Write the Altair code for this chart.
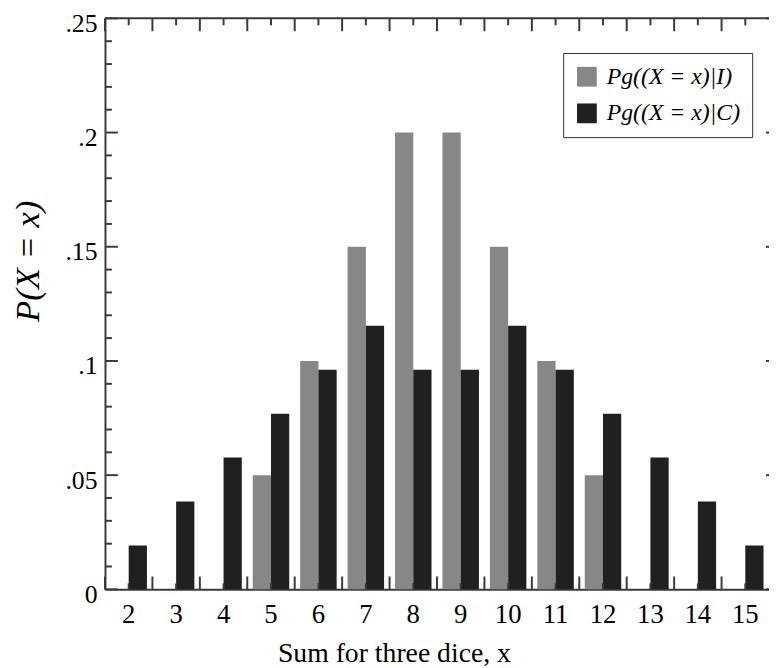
import altair as alt
import pandas as pd

# ---- data ----
sums = [2, 3, 4, 5, 6, 7, 8, 9, 10, 11, 12, 13, 14, 15]
p_indep = [0, 0, 0, 0.05, 0.10, 0.15, 0.20, 0.20, 0.15, 0.10, 0.05, 0, 0, 0]
p_cond = [0.0192, 0.0385, 0.0577, 0.0769, 0.0962, 0.1154, 0.0962,
          0.0962, 0.1154, 0.0962, 0.0769, 0.0577, 0.0385, 0.0192]
series_labels = ["Pg((X = x)|I)", "Pg((X = x)|C)"]
series_colors = ["#878787", "#202020"]
y_major = [0, 0.05, 0.10, 0.15, 0.20, 0.25]
y_minor = [0.01, 0.02, 0.03, 0.04, 0.06, 0.07, 0.08, 0.09, 0.11, 0.12, 0.13, 0.14,
           0.16, 0.17, 0.18, 0.19, 0.21, 0.22, 0.23, 0.24]

W, H = 671, 577
FONT = "Liberation Serif"
AXC = "#3a3a3a"

rows = []
for s, a, b in zip(sums, p_indep, p_cond):
    rows.append({"sum": s, "series": series_labels[0], "p": a})
    rows.append({"sum": s, "series": series_labels[1], "p": b})
df = pd.DataFrame(rows)

x_scale = alt.Scale(paddingInner=0, paddingOuter=0)
y_scale = alt.Scale(domain=[0, 0.25], nice=False, zero=True)

x_axis = alt.Axis(title="Sum for three dice, x", labelAngle=0, ticks=False,
                  labelPadding=12, labelFontSize=27, titleFontSize=28,
                  titleX=292, titleY=73, titleBaseline="alphabetic",
                  titleAlign="center")
y_axis = alt.Axis(title="P(X = x)", values=y_major, ticks=False,
                  labelExpr="datum.value == 0 ? '0' : substring(format(datum.value, '.2~f'), 1)",
                  labelPadding=8, labelFontSize=26, labelOffset=5,
                  titleFontSize=35, titleFontStyle="italic",
                  titleX=-78, titleY=245, titleAngle=270,
                  titleBaseline="middle", titleAlign="center")

bars = alt.Chart(df).mark_bar().encode(
    x=alt.X("sum:O", scale=x_scale, axis=x_axis),
    xOffset=alt.XOffset("series:N", sort=series_labels,
                        scale=alt.Scale(paddingOuter=0.3, paddingInner=0)),
    y=alt.Y("p:Q", scale=y_scale, axis=y_axis),
    color=alt.Color("series:N", sort=series_labels,
                    scale=alt.Scale(domain=series_labels, range=series_colors),
                    legend=alt.Legend(title=None, orient="none", legendX=463, legendY=35,
                                      strokeColor="#333333", padding=12,
                                      symbolType="square", symbolSize=400,
                                      symbolStrokeWidth=0, symbolOpacity=1,
                                      labelFont=FONT, labelFontSize=24,
                                      labelFontStyle="italic", labelOffset=8,
                                      rowPadding=13, labelColor="black")),
)

xdf = pd.DataFrame({"sum": sums})
ymaj = pd.DataFrame({"p": y_major})
ymin = pd.DataFrame({"p": y_minor})

def xrule(band, y0, y1):
    return alt.Chart(xdf).mark_rule(color=AXC, strokeWidth=2).encode(
        x=alt.X("sum:O", bandPosition=band, scale=x_scale, axis=x_axis),
        y=alt.value(y0), y2=alt.value(y1))

def yrule(d, x0, x1):
    return alt.Chart(d).mark_rule(color=AXC, strokeWidth=2).encode(
        y=alt.Y("p:Q", scale=y_scale, axis=y_axis),
        x=alt.value(x0), x2=alt.value(x1))

top_line = alt.Chart(pd.DataFrame({"a": [0]})).mark_rule(color=AXC, strokeWidth=2).encode(
    x=alt.value(0), x2=alt.value(W), y=alt.value(0))

chart = alt.layer(
    bars,
    xrule(0, H - 13, H), xrule(0.5, H - 6, H),
    xrule(0, 0, 13), xrule(0.5, 0, 7),
    yrule(ymaj, 0, 13), yrule(ymin, 0, 7), yrule(ymaj, W - 3, W),
    top_line,
).properties(
    width=W, height=H,
    padding={"left": 98, "top": 7, "right": 0, "bottom": 76},
    autosize=alt.AutoSizeParams(type="none"),
).configure_view(
    stroke="transparent"
).configure_axis(
    domainColor=AXC, domainWidth=2, labelFont=FONT, titleFont=FONT,
    labelColor="black", titleColor="black", grid=False, titleFontWeight="normal",
)

chart.save("out.html", embed_options={"renderer": "svg", "actions": False})
